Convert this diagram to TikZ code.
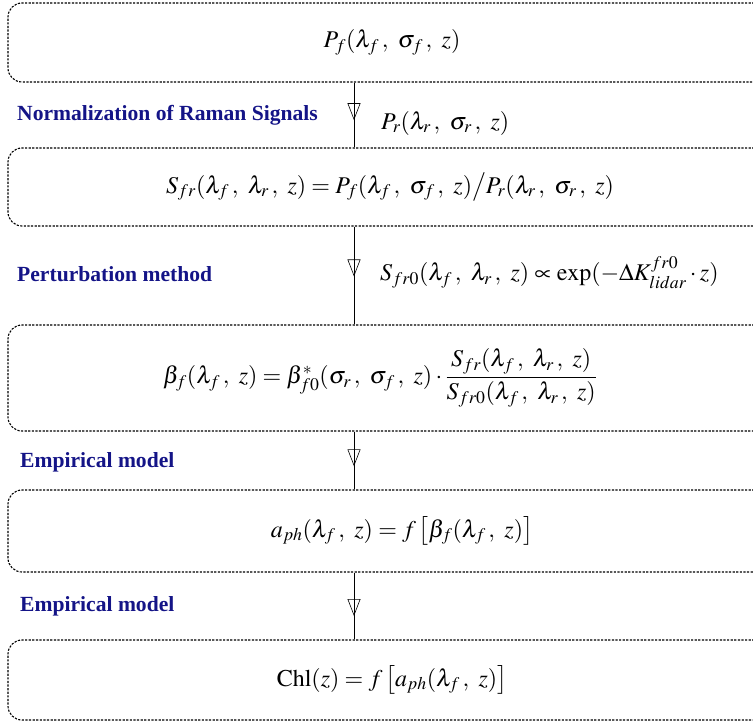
\documentclass[tikz,border=0pt]{standalone}
\usepackage{amsmath}
\usepackage{mathptmx}
\usepackage{fontspec}
\setmainfont{Liberation Serif}
\usetikzlibrary{arrows.meta,decorations.markings}
\definecolor{lblue}{RGB}{20,20,135}
\newcommand{\comsp}{\mkern2mu,\mkern5mu}
\tikzset{
  flowbox/.style={draw=black, line width=1.1pt, dash pattern=on 2.2pt off 1.4pt,
    rounded corners=14pt, minimum width=764pt, inner sep=0pt,
    font=\fontsize{24}{28}\selectfont},
  conn/.style={draw=black, line width=0.6pt},
  midtip/.style={postaction={decorate}, decoration={markings,
    mark=at position #1 with {\arrow{Triangle[open, width=13pt, length=17pt, line width=0.6pt]}}}},
  steplabel/.style={anchor=west, text=lblue, font=\fontsize{21.6}{24}\bfseries\selectfont, inner sep=0pt},
  mathlabel/.style={anchor=west, font=\fontsize{24}{28}\selectfont, inner sep=0pt}
}
\begin{document}
\begin{tikzpicture}[x=1pt,y=-1pt]
\useasboundingbox (0,0) rectangle (753,723);
\node[flowbox, minimum height=79pt] (b1) at (390,42.5) {\hspace*{4pt}$P_f(\lambda_f\comsp\sigma_f\comsp z)$};
\node[flowbox, minimum height=78pt] (b2) at (390,187) {$S_{fr}(\lambda_f\comsp\lambda_r\comsp z)=P_f(\lambda_f\comsp\sigma_f\comsp z)\big/P_r(\lambda_r\comsp\sigma_r\comsp z)$};
\node[flowbox, minimum height=106pt] (b3) at (390,378) {$\beta_f(\lambda_f\comsp z)=\beta^{*}_{f0}(\sigma_r\comsp\sigma_f\comsp z)\cdot\dfrac{S_{fr}(\lambda_f\comsp\lambda_r\comsp z)}{S_{fr0}(\lambda_f\comsp\lambda_r\comsp z)}$\hspace*{20pt}};
\node[flowbox, minimum height=82pt] (b4) at (390,531) {\hspace*{24pt}$a_{ph}(\lambda_f\comsp z)=f\left[\beta_f(\lambda_f\comsp z)\right]$};
\node[flowbox, minimum height=80pt] (b5) at (390,680) {\hspace*{4pt}$\mathrm{Chl}(z)=f\left[a_{ph}(\lambda_f\comsp z)\right]$};
\coordinate (ax) at (354,0);
\draw[conn, midtip=0.58] (b1.south -| ax) -- (b2.north -| ax);
\draw[conn, midtip=0.51] (b2.south -| ax) -- (b3.north -| ax);
\draw[conn, midtip=0.6] (b3.south -| ax) -- (b4.north -| ax);
\draw[conn, midtip=0.65] (b4.south -| ax) -- (b5.north -| ax);
\node[steplabel] (l1) at (17,115) {Normalization of Raman Signals};
\node[mathlabel] (m1) at (381,123) {$P_r(\lambda_r\comsp\sigma_r\comsp z)$};
\node[steplabel] (l2) at (17,274) {Perturbation method};
\node[mathlabel] (m2) at (380,273) {$S_{fr0}(\lambda_f\comsp\lambda_r\comsp z)\propto\exp(-\Delta K_{lidar}^{fr0}\cdot z)$};
\node[steplabel] (l3) at (20,462) {Empirical model};
\node[steplabel] (l4) at (20,606) {Empirical model};
\end{tikzpicture}
\end{document}
